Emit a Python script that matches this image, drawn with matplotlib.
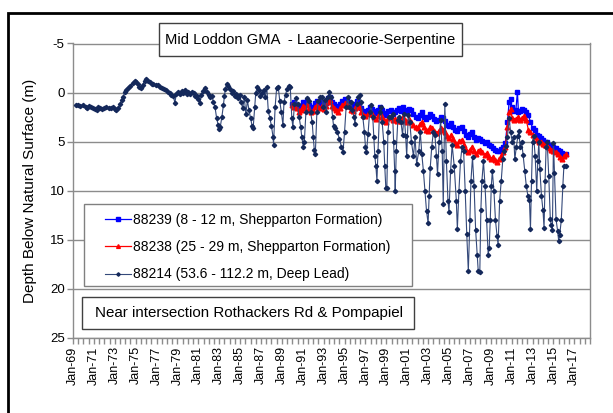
import matplotlib
matplotlib.use('Agg')
import matplotlib.pyplot as plt
from matplotlib.patches import Rectangle
from matplotlib.ticker import MultipleLocator

plt.rcParams['font.family'] = ['Liberation Sans', 'DejaVu Sans']

# ---------------- data ----------------
title_text = "Mid Loddon GMA  - Laanecoorie-Serpentine"
note_text = "Near intersection Rothackers Rd & Pompapiel"
y_label = "Depth Below Natural Surface (m)"
series_names = ["88239 (8 - 12 m, Shepparton Formation)",
                "88238 (25 - 29 m, Shepparton Formation)",
                "88214 (53.6 - 112.2 m, Deep Lead)"]
x_tick_years = [1969, 1971, 1973, 1975, 1977, 1979, 1981, 1983, 1985, 1987, 1989,
                1991, 1993, 1995, 1997, 1999, 2001, 2003, 2005, 2007, 2009, 2011,
                2013, 2015, 2017]
x_tick_labels = ["Jan-69", "Jan-71", "Jan-73", "Jan-75", "Jan-77", "Jan-79", "Jan-81",
                 "Jan-83", "Jan-85", "Jan-87", "Jan-89", "Jan-91", "Jan-93", "Jan-95",
                 "Jan-97", "Jan-99", "Jan-01", "Jan-03", "Jan-05", "Jan-07", "Jan-09",
                 "Jan-11", "Jan-13", "Jan-15", "Jan-17"]
y_ticks = [-5, 0, 5, 10, 15, 20, 25]

# 88239 shallow bore (year, depth m)
bore_88239 = [
    (1990.0, 1.2), (1990.2, 1.0), (1990.4, 1.3), (1990.6, 1.6), (1990.8, 1.4),
    (1991.0, 1.0), (1991.2, 1.2), (1991.4, 0.9), (1991.6, 1.3), (1991.8, 1.6),
    (1992.0, 1.5), (1992.2, 1.1), (1992.4, 0.9), (1992.6, 1.2), (1992.8, 1.0),
    (1993.0, 1.3), (1993.2, 1.1), (1993.4, 0.6), (1993.6, 0.4), (1993.8, 1.0),
    (1994.0, 1.2), (1994.2, 1.4), (1994.4, 1.6), (1994.6, 1.2), (1994.8, 0.9),
    (1995.0, 0.7), (1995.2, 0.9), (1995.4, 1.0), (1995.6, 1.4), (1995.8, 1.5),
    (1996.0, 1.2), (1996.2, 0.9), (1996.4, 1.1), (1996.6, 1.6), (1996.8, 1.9),
    (1997.0, 2.0), (1997.2, 1.8), (1997.4, 1.5), (1997.6, 1.7), (1997.8, 1.9),
    (1998.0, 2.1), (1998.2, 1.8), (1998.4, 1.5), (1998.6, 1.8), (1998.8, 2.1),
    (1999.0, 2.3), (1999.2, 1.9), (1999.4, 1.8), (1999.6, 2.2), (1999.8, 2.0),
    (2000.0, 1.8), (2000.2, 1.6), (2000.4, 1.9), (2000.6, 1.5), (2000.8, 1.8),
    (2001.0, 2.0), (2001.2, 1.7), (2001.4, 1.8), (2001.6, 2.2), (2001.8, 2.5),
    (2002.0, 2.6), (2002.2, 2.3), (2002.4, 2.0), (2002.6, 2.5), (2002.8, 2.7),
    (2003.0, 2.5), (2003.2, 2.2), (2003.4, 2.4), (2003.6, 2.7), (2003.8, 2.9),
    (2004.0, 2.8), (2004.2, 2.5), (2004.4, 2.6), (2004.6, 2.9), (2004.8, 3.3),
    (2005.0, 3.4), (2005.2, 3.1), (2005.4, 3.5), (2005.6, 3.8), (2005.8, 3.9),
    (2006.0, 3.6), (2006.2, 3.5), (2006.4, 3.9), (2006.6, 4.3), (2006.8, 4.5),
    (2007.0, 4.2), (2007.2, 4.0), (2007.4, 4.5), (2007.6, 4.8), (2007.8, 4.6),
    (2008.0, 4.7), (2008.2, 4.9), (2008.4, 5.1), (2008.6, 5.0), (2008.8, 5.3),
    (2009.0, 5.4), (2009.2, 5.6), (2009.4, 5.8), (2009.6, 5.9), (2009.8, 6.0),
    (2010.0, 5.7), (2010.2, 5.5), (2010.4, 5.1), (2010.6, 3.0), (2010.75, 1.0),
    (2010.9, 0.7), (2011.0, 1.5), (2011.2, 1.9), (2011.4, 1.8), (2011.55, -0.05),
    (2011.65, 2.0), (2011.8, 1.9), (2012.0, 1.7), (2012.2, 1.8), (2012.4, 2.0),
    (2012.6, 2.3), (2012.8, 3.0), (2013.0, 3.6), (2013.2, 3.8), (2013.4, 4.3),
    (2013.6, 4.4), (2013.8, 4.6), (2014.0, 4.8), (2014.2, 5.0), (2014.4, 5.0),
    (2014.6, 5.3), (2014.8, 5.4), (2015.0, 5.5), (2015.2, 5.6), (2015.4, 5.8),
    (2015.6, 6.0), (2015.8, 6.2), (2016.0, 6.4), (2016.2, 6.3),
]

# 88238 intermediate bore (year, depth m)
bore_88238 = [
    (1990.0, 1.3), (1990.2, 1.5), (1990.4, 1.6), (1990.6, 2.0), (1990.8, 1.8),
    (1991.0, 1.4), (1991.2, 1.6), (1991.4, 1.3), (1991.6, 1.7), (1991.8, 2.0),
    (1992.0, 1.9), (1992.2, 1.5), (1992.4, 1.3), (1992.6, 1.6), (1992.8, 1.4),
    (1993.0, 1.7), (1993.2, 1.4), (1993.4, 1.0), (1993.6, 0.8), (1993.8, 1.4),
    (1994.0, 1.6), (1994.2, 1.8), (1994.4, 2.0), (1994.6, 1.6), (1994.8, 1.3),
    (1995.0, 1.1), (1995.2, 1.3), (1995.4, 1.4), (1995.6, 1.8), (1995.8, 1.9),
    (1996.0, 1.6), (1996.2, 1.3), (1996.4, 1.5), (1996.6, 2.0), (1996.8, 2.3),
    (1997.0, 2.4), (1997.2, 2.2), (1997.4, 2.0), (1997.6, 2.2), (1997.8, 2.5),
    (1998.0, 2.7), (1998.2, 2.4), (1998.4, 2.1), (1998.6, 2.5), (1998.8, 2.8),
    (1999.0, 3.0), (1999.2, 2.6), (1999.4, 2.5), (1999.6, 2.8), (1999.8, 2.7),
    (2000.0, 2.9), (2000.2, 2.6), (2000.4, 2.9), (2000.6, 2.5), (2000.8, 2.8),
    (2001.0, 3.0), (2001.2, 2.7), (2001.4, 3.0), (2001.6, 3.3), (2001.8, 3.5),
    (2002.0, 3.6), (2002.2, 3.2), (2002.4, 3.0), (2002.6, 3.5), (2002.8, 3.8),
    (2003.0, 3.9), (2003.2, 3.5), (2003.4, 3.6), (2003.6, 3.9), (2003.8, 4.1),
    (2004.0, 3.9), (2004.2, 3.6), (2004.4, 3.8), (2004.6, 4.0), (2004.8, 4.4),
    (2005.0, 4.6), (2005.2, 4.3), (2005.4, 4.7), (2005.6, 5.1), (2005.8, 5.3),
    (2006.0, 4.9), (2006.2, 4.8), (2006.4, 5.3), (2006.6, 5.8), (2006.8, 6.1),
    (2007.0, 5.8), (2007.2, 5.5), (2007.4, 6.0), (2007.6, 6.3), (2007.8, 6.0),
    (2008.0, 5.8), (2008.2, 6.1), (2008.4, 6.4), (2008.6, 6.2), (2008.8, 6.6),
    (2009.0, 6.8), (2009.2, 6.6), (2009.4, 6.9), (2009.6, 7.1), (2009.8, 6.8),
    (2010.0, 6.5), (2010.2, 6.1), (2010.4, 5.5), (2010.6, 3.5), (2010.75, 2.0),
    (2010.9, 1.7), (2011.05, 2.6), (2011.2, 2.8), (2011.4, 2.7), (2011.6, 2.5),
    (2011.8, 2.8), (2012.0, 2.6), (2012.2, 2.4), (2012.4, 2.8), (2012.6, 3.8),
    (2012.8, 4.0), (2013.0, 4.3), (2013.2, 4.5), (2013.4, 4.8), (2013.6, 5.0),
    (2013.8, 5.0), (2014.0, 5.2), (2014.2, 5.3), (2014.4, 5.4), (2014.6, 5.6),
    (2014.8, 5.8), (2015.0, 6.0), (2015.2, 6.1), (2015.4, 6.3), (2015.6, 6.6),
    (2015.8, 6.8), (2016.0, 6.5), (2016.2, 6.3),
]

# 88214 deep lead bore (year, depth m)
bore_88214 = [
    (1969.3, 1.3), (1969.5, 1.3), (1969.7, 1.35), (1970.0, 1.3), (1970.2, 1.5),
    (1970.35, 1.6), (1970.5, 1.4), (1970.7, 1.45), (1970.9, 1.55), (1971.1, 1.7),
    (1971.25, 1.75), (1971.4, 1.5), (1971.6, 1.55), (1971.8, 1.65), (1972.0, 1.6),
    (1972.2, 1.5), (1972.4, 1.55), (1972.6, 1.6), (1972.8, 1.5), (1973.0, 1.65),
    (1973.15, 1.8), (1973.3, 1.6), (1973.5, 1.2), (1973.65, 0.8), (1973.8, 0.5),
    (1973.95, -0.1), (1974.1, -0.3), (1974.3, -0.45), (1974.5, -0.7), (1974.75, -1.0),
    (1974.9, -1.2), (1975.05, -1.05), (1975.2, -0.9), (1975.35, -0.6), (1975.5, -0.45),
    (1975.7, -0.8), (1975.85, -1.2), (1976.0, -1.4), (1976.2, -1.2), (1976.4, -1.05),
    (1976.55, -0.9), (1976.7, -0.85), (1976.9, -0.8), (1977.1, -0.75), (1977.3, -0.6),
    (1977.5, -0.5), (1977.7, -0.4), (1977.9, -0.3), (1978.1, -0.1), (1978.25, 0.05),
    (1978.4, 0.2), (1978.6, 0.3), (1978.75, 1.05), (1978.9, 0.1), (1979.05, -0.1),
    (1979.2, 0.1), (1979.4, -0.2), (1979.55, 0.0), (1979.7, -0.25), (1979.9, 0.1),
    (1980.05, -0.05), (1980.2, 0.1), (1980.4, -0.1), (1980.55, 0.0), (1980.7, 0.3),
    (1980.85, 0.35), (1981.0, 0.7), (1981.15, 1.1), (1981.3, 0.2), (1981.45, -0.2),
    (1981.6, -0.45), (1981.8, -0.1), (1982.0, 0.2), (1982.15, 0.5), (1982.3, 0.3),
    (1982.45, 1.0), (1982.6, 1.5), (1982.75, 2.6), (1982.9, 3.3), (1983.0, 3.7),
    (1983.1, 3.5), (1983.25, 2.5), (1983.4, 1.3), (1983.5, 0.3), (1983.6, -0.4),
    (1983.7, -0.9), (1983.85, -0.7), (1984.0, -0.4), (1984.2, 0.0), (1984.35, -0.2),
    (1984.5, 0.3), (1984.65, 0.1), (1984.8, 0.6), (1984.95, 0.2), (1985.1, 1.0),
    (1985.25, 1.6), (1985.4, 0.5), (1985.55, 2.2), (1985.7, 0.8), (1985.85, 1.8),
    (1986.0, 2.6), (1986.15, 3.4), (1986.25, 3.6), (1986.4, 1.5), (1986.5, 0.0),
    (1986.65, -0.6), (1986.8, -0.3), (1986.95, 0.3), (1987.1, 0.0), (1987.25, -0.3),
    (1987.4, 0.5), (1987.55, -0.6), (1987.7, 1.9), (1987.85, 2.6), (1988.0, 3.4),
    (1988.15, 4.5), (1988.2, 5.3), (1988.35, 1.5), (1988.5, -0.5), (1988.65, -0.6),
    (1988.8, 0.9), (1988.95, 2.0), (1989.1, 3.3), (1989.2, 1.0), (1989.35, 0.2),
    (1989.5, -0.4), (1989.65, -0.65), (1989.8, -0.6), (1989.95, 2.6), (1990.05, 3.5),
    (1990.2, 1.2), (1990.35, 0.6), (1990.5, 1.2), (1990.65, 2.5), (1990.8, 3.5),
    (1990.9, 4.5), (1991.05, 5.5), (1991.15, 5.0), (1991.3, 2.0), (1991.45, 0.6),
    (1991.6, 0.9), (1991.75, 2.0), (1991.9, 3.0), (1992.0, 4.5), (1992.1, 5.8),
    (1992.2, 6.3), (1992.35, 2.0), (1992.5, 0.9), (1992.65, 0.5), (1992.8, 0.5),
    (1992.95, 1.5), (1993.1, 0.8), (1993.25, 2.0), (1993.4, 0.5), (1993.55, -0.1),
    (1993.7, 0.5), (1993.85, 2.5), (1993.95, 3.4), (1994.1, 3.6), (1994.3, 4.0),
    (1994.5, 4.7), (1994.7, 5.5), (1994.85, 6.1), (1995.0, 4.0), (1995.15, 1.5),
    (1995.3, 0.5), (1995.45, 1.5), (1995.6, 1.0), (1995.75, 1.8), (1995.9, 2.5),
    (1996.0, 3.2), (1996.15, 1.2), (1996.3, 0.4), (1996.45, 0.2), (1996.6, 1.0),
    (1996.75, 2.5), (1996.9, 4.0), (1997.0, 5.5), (1997.1, 6.1), (1997.25, 4.2),
    (1997.4, 2.0), (1997.55, 1.3), (1997.7, 2.5), (1997.8, 4.5), (1997.9, 6.5),
    (1998.0, 7.5), (1998.1, 9.0), (1998.2, 6.0), (1998.35, 2.0), (1998.5, 1.5),
    (1998.6, 3.0), (1998.75, 5.0), (1998.85, 7.5), (1998.95, 9.7), (1999.05, 9.7),
    (1999.15, 4.0), (1999.3, 2.5), (1999.45, 2.5), (1999.6, 2.2), (1999.7, 5.0),
    (1999.8, 8.0), (1999.85, 10.0), (1999.95, 6.0), (2000.1, 2.8), (2000.25, 2.5),
    (2000.4, 3.0), (2000.55, 4.3), (2000.7, 2.2), (2000.85, 4.4), (2000.95, 6.5),
    (2001.1, 2.3), (2001.25, 3.0), (2001.4, 5.0), (2001.6, 6.5), (2001.75, 4.5),
    (2001.9, 7.3), (2002.1, 6.0), (2002.25, 4.0), (2002.4, 6.3), (2002.55, 8.0),
    (2002.7, 10.0), (2002.85, 12.1), (2003.0, 13.3), (2003.1, 10.5), (2003.2, 7.7),
    (2003.35, 5.5), (2003.5, 4.0), (2003.65, 4.3), (2003.8, 6.5), (2003.9, 8.3),
    (2004.05, 5.0), (2004.2, 2.8), (2004.35, 6.0), (2004.45, 11.4), (2004.6, 1.2),
    (2004.75, 7.0), (2004.9, 11.0), (2005.0, 12.2), (2005.15, 8.0), (2005.3, 5.3),
    (2005.5, 7.5), (2005.7, 11.0), (2005.8, 13.9), (2005.95, 10.0), (2006.1, 7.0),
    (2006.25, 5.5), (2006.4, 6.0), (2006.55, 10.0), (2006.7, 14.4), (2006.85, 18.2),
    (2007.0, 13.0), (2007.1, 9.0), (2007.25, 6.6), (2007.4, 9.5), (2007.55, 14.0),
    (2007.7, 16.5), (2007.8, 18.2), (2007.95, 18.3), (2008.05, 12.0), (2008.15, 9.0),
    (2008.3, 7.0), (2008.45, 9.5), (2008.6, 13.0), (2008.75, 16.5), (2008.85, 15.8),
    (2008.95, 13.0), (2009.05, 9.5), (2009.15, 8.0), (2009.3, 10.0), (2009.45, 13.0),
    (2009.6, 14.6), (2009.7, 15.5), (2009.85, 11.0), (2010.0, 9.0), (2010.15, 6.8),
    (2010.3, 6.0), (2010.45, 5.4), (2010.6, 4.5), (2010.75, 2.6), (2010.9, 4.0),
    (2011.05, 5.0), (2011.2, 4.5), (2011.3, 6.8), (2011.45, 5.5), (2011.6, 4.4),
    (2011.7, 3.9), (2011.8, 5.5), (2011.95, 5.0), (2012.1, 6.4), (2012.25, 8.0),
    (2012.4, 9.5), (2012.55, 10.5), (2012.7, 10.9), (2012.8, 13.9), (2012.9, 9.0),
    (2013.0, 5.0), (2013.1, 4.4), (2013.25, 6.5), (2013.4, 10.0), (2013.5, 7.0),
    (2013.6, 5.0), (2013.7, 7.8), (2013.85, 10.5), (2014.0, 12.0), (2014.1, 13.8),
    (2014.2, 9.0), (2014.3, 5.5), (2014.4, 5.0), (2014.55, 8.5), (2014.7, 12.9),
    (2014.8, 13.5), (2014.9, 14.0), (2015.0, 5.1), (2015.1, 8.2), (2015.25, 12.9),
    (2015.4, 14.1), (2015.5, 15.1), (2015.6, 14.5), (2015.75, 13.0), (2015.9, 9.5),
    (2016.0, 7.5), (2016.2, 7.5),
]

# ---------------- figure ----------------
W, H = 613, 413
fig = plt.figure(figsize=(W / 100, H / 100), dpi=100)
fig.patch.set_facecolor('white')

def fx(px):
    return px / W

def fy(py):
    return 1 - py / H

ax = fig.add_axes([fx(73), fy(338), fx(590) - fx(73), fy(43.5) - fy(338)])

navy_line = '#34497a'
navy_mark = '#14285a'
grid_c = '#8c8c8c'

x1 = [p[0] for p in bore_88239]; y1 = [p[1] for p in bore_88239]
x2 = [p[0] for p in bore_88238]; y2 = [p[1] for p in bore_88238]
x3 = [p[0] for p in bore_88214]; y3 = [p[1] for p in bore_88214]

l1, = ax.plot(x1, y1, color='#0000ff', lw=0.9, marker='s', ms=3.0, mec='#0000ff',
              mfc='#0000ff', zorder=3)
l2, = ax.plot(x2, y2, color='#ff0000', lw=0.9, marker='^', ms=3.4, mec='#ff0000',
              mfc='#ff0000', zorder=4)
l3, = ax.plot(x3, y3, color=navy_line, lw=0.8, marker='D', ms=2.2, mec=navy_mark,
              mfc=navy_mark, zorder=5)

ax.set_xlim(1969.0, 2018.5)
ax.set_ylim(25, -5)
ax.set_yticks(y_ticks)
ax.set_yticklabels([str(v) for v in y_ticks])
ax.set_xticks(x_tick_years)
ax.set_xticklabels(x_tick_labels, rotation=90)
ax.xaxis.set_minor_locator(MultipleLocator(0.5))
ax.yaxis.grid(True, color=grid_c, lw=1.0, zorder=0)
ax.set_axisbelow(True)
for s in ax.spines.values():
    s.set_color(grid_c)
    s.set_linewidth(1.0)
ax.tick_params(axis='both', which='both', direction='out', length=4, color=grid_c,
               width=1.0, labelsize=9.5, pad=2)
ax.tick_params(axis='x', which='both', labelsize=9, pad=2)
ax.set_ylabel(y_label, fontsize=11)
ax.yaxis.set_label_coords(-0.07, 0.5)

# title box
fig.add_artist(Rectangle((fx(159), fy(56)), fx(462) - fx(159), fy(23) - fy(56),
                         transform=fig.transFigure, facecolor='white',
                         edgecolor='#404040', lw=1.0, zorder=10))
fig.text(fx(310.5), fy(40), title_text, ha='center', va='center', fontsize=10.6,
         zorder=11)

# legend box
fig.add_artist(Rectangle((fx(84), fy(286)), fx(412) - fx(84), fy(204) - fy(286),
                         transform=fig.transFigure, facecolor='white',
                         edgecolor='#808080', lw=1.0, zorder=10))
leg = fig.legend([l1, l2, l3], series_names, loc='upper left',
                 bbox_to_anchor=(fx(105), fy(213)), bbox_transform=fig.transFigure,
                 frameon=False, borderpad=0, borderaxespad=0, handlelength=1.9,
                 handletextpad=0.15, labelspacing=0.95, fontsize=10, numpoints=1,
                 markerscale=0.8)
leg.set_zorder(12)

# note box
fig.add_artist(Rectangle((fx(82), fy(329)), fx(414) - fx(82), fy(297) - fy(329),
                         transform=fig.transFigure, facecolor='white',
                         edgecolor='#404040', lw=1.0, zorder=10))
fig.text(fx(95), fy(313), note_text, ha='left', va='center', fontsize=10.9, zorder=11)

# outer frame (partially outside the image)
fig.add_artist(Rectangle((fx(8), fy(500)), fx(700) - fx(8), fy(13) - fy(500),
                         transform=fig.transFigure, facecolor='none',
                         edgecolor='black', lw=2.0, zorder=20))

fig.savefig('out.png', dpi=100, facecolor='white')
